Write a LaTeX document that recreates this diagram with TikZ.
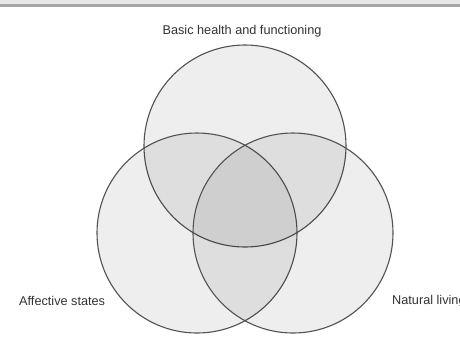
\documentclass[tikz,border=0pt]{standalone}
\usepackage{fontspec}
\setmainfont{Liberation Sans}
\tikzset{
  venn/.style={circle, draw=black!68, line width=1.1pt, fill=black, fill opacity=0.068, draw opacity=1, inner sep=0pt, minimum size=#1},
  lbl/.style={font=\fontsize{12.7}{15}\selectfont, text=black!80, inner sep=0pt}
}
\begin{document}
\begin{tikzpicture}[x=1pt,y=-1pt]
\useasboundingbox (0,0) rectangle (460,360);
\fill[white] (0,0) rectangle (460,360);
\fill[black!9] (0,0) rectangle (460,4);
\fill[black!35] (0,4) rectangle (460,7);
\node[venn=202pt] (health) at (245,146) {};
\node[venn=200pt] (affect) at (197,233) {};
\node[venn=200pt] (natural) at (293,233) {};
\node[lbl, anchor=base] (thealth) at (242,34) {Basic health and functioning};
\node[lbl, anchor=base west] (taffect) at (19,305) {Affective states};
\node[lbl, anchor=base west] (tnatural) at (392,304) {Natural living};
\end{tikzpicture}
\end{document}
